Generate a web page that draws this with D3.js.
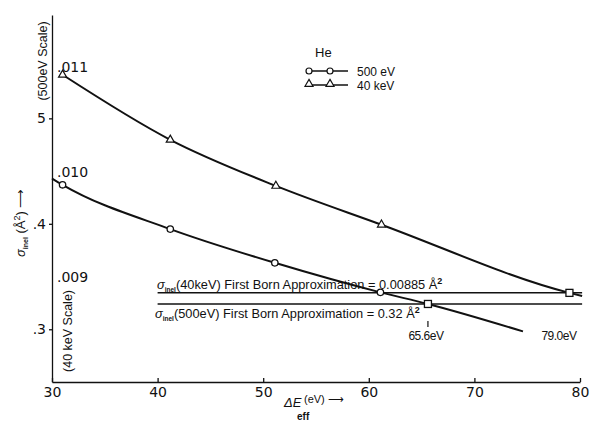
<!DOCTYPE html>
<html>
<head>
<meta charset="utf-8">
<script src="https://cdn.jsdelivr.net/npm/d3@7"></script>
<style>
  body { margin: 0; background: #fff; }
  text { font-family: "Liberation Sans", Arial, sans-serif; fill: #111; }
</style>
</head>
<body>
<svg id="chart" width="591" height="423"></svg>
<script>
// He, sigma_inel vs effective energy loss
var xTicks = [30, 40, 50, 60, 70, 80];
var y500Ticks = [0.3, 0.4, 0.5];
var y500TickLabels = [".3", ".4", "5"];
var y40Ticks = [0.009, 0.010, 0.011];
var y40TickLabels = [".009", ".010", ".011"];

// 500 eV curve (left / 500eV scale)
var energy500 = [31, 41.2, 51.1, 61.1];
var sigma500 = [0.437, 0.395, 0.363, 0.335];
var curve500E = [30, 31, 41.2, 51.1, 61.1, 65.6, 74.6];
var curve500S = [0.443, 0.437, 0.395, 0.363, 0.335, 0.324, 0.298];

// 40 keV curve (40 keV scale)
var energy40 = [31, 41.2, 51.2, 61.2];
var sigma40 = [0.01093, 0.01031, 0.00987, 0.00950];
var curve40E = [31, 41.2, 51.2, 61.2, 79.0, 80.2];
var curve40S = [0.01093, 0.01031, 0.00987, 0.00950, 0.00885, 0.00882];

// first Born levels and crossing points
var born40 = 0.00885;
var born500 = 0.324;   // drawn level, labelled 0.32
var bornRange = [40, 80.2];
var crossE = [65.6, 79.0];
var crossLabels = ["65.6eV", "79.0eV"];

var svg = d3.select("#chart");

var x = d3.scaleLinear().domain([30, 80]).range([52, 580]);
var y500 = d3.scaleLinear().domain([0.25, 0.598]).range([382, 15]);
var y40 = d3.scaleLinear().domain([0.008, 0.0115]).range([382, 15]);

// axes
var leftAxis = svg.append("g")
    .attr("transform", "translate(52,0)")
    .call(d3.axisLeft(y500).tickValues(y500Ticks).tickSize(3).tickSizeOuter(0)
      .tickPadding(3)
      .tickFormat(function(d, i) { return y500TickLabels[i]; }));
leftAxis.selectAll("text").style("font-size", "14px").style("font-family", "DejaVu Sans");

var bottomAxis = svg.append("g")
    .attr("transform", "translate(0,382)")
    .call(d3.axisBottom(x).tickValues(xTicks).tickSizeInner(-4).tickSizeOuter(0)
      .tickPadding(5));
bottomAxis.selectAll("text").style("font-size", "14px").style("font-family", "DejaVu Sans");
svg.selectAll(".domain, .tick line").attr("stroke", "#111").attr("stroke-width", 1.3);

// 40 keV scale labels inside the axis
svg.append("g").selectAll("text")
    .data(y40Ticks)
    .enter().append("text")
    .attr("x", 57)
    .attr("y", function(d) { return y40(d); })
    .attr("dy", "0.35em")
    .style("font-size", "14px")
    .style("font-family", "DejaVu Sans")
    .text(function(d, i) { return y40TickLabels[i]; });

svg.append("text")
    .attr("transform", "translate(47,61) rotate(-90)")
    .attr("text-anchor", "middle")
    .style("font-size", "12.5px")
    .text("(500eV Scale)");

svg.append("text")
    .attr("transform", "translate(72,331) rotate(-90)")
    .attr("text-anchor", "middle")
    .style("font-size", "12.5px")
    .text("(40 keV Scale)");

// y title
var yt = svg.append("text")
    .attr("transform", "translate(25,257) rotate(-90)")
    .style("font-size", "13px");
yt.append("tspan").style("font-style", "italic").text("σ");
yt.append("tspan").attr("dy", 3).style("font-size", "7px").style("font-weight", "bold").text("inel");
yt.append("tspan").attr("dy", -3).text(" (Å");
yt.append("tspan").attr("dy", -5).style("font-size", "9px").text("2");
yt.append("tspan").attr("dy", 5).text(") ⟶");

// x title
svg.append("text").attr("x", 284).attr("y", 407)
    .style("font-size", "13px").style("font-style", "italic").text("ΔE");
svg.append("text").attr("x", 297).attr("y", 420)
    .style("font-size", "10px").style("font-weight", "bold").text("eff");
svg.append("text").attr("x", 304).attr("y", 403)
    .style("font-size", "11px").text("(eV) ⟶");

// first Born lines
var bornLines = [
  { level: y40(born40) },
  { level: y500(born500) }
];
svg.append("g").selectAll("line")
    .data(bornLines)
    .enter().append("line")
    .attr("x1", x(bornRange[0]))
    .attr("x2", x(bornRange[1]))
    .attr("y1", function(d) { return d.level; })
    .attr("y2", function(d) { return d.level; })
    .attr("stroke", "#111")
    .attr("stroke-width", 1.5);

function bornText(xp, yp, beam, val) {
  var t = svg.append("text").attr("x", xp).attr("y", yp).style("font-size", "12.8px");
  t.append("tspan").style("font-style", "italic").text("σ");
  t.append("tspan").attr("dy", 3).style("font-size", "6.5px").style("font-weight", "bold").text("inel");
  t.append("tspan").attr("dy", -3).text("(" + beam + ") First Born  Approximation = " + val + " Å");
  t.append("tspan").attr("dy", -5).style("font-size", "9px").style("font-weight", "bold").text("2");
}
bornText(157, 289, "40keV", "0.00885");
bornText(155, 318, "500eV", "0.32");

// curves
var line500 = d3.line()
    .x(function(d) { return x(d[0]); })
    .y(function(d) { return y500(d[1]); })
    .curve(d3.curveMonotoneX);
var line40 = d3.line()
    .x(function(d) { return x(d[0]); })
    .y(function(d) { return y40(d[1]); })
    .curve(d3.curveMonotoneX);

svg.append("path")
    .datum(d3.zip(curve500E, curve500S))
    .attr("d", line500)
    .attr("fill", "none").attr("stroke", "#111").attr("stroke-width", 2);
svg.append("path")
    .datum(d3.zip(curve40E, curve40S))
    .attr("d", line40)
    .attr("fill", "none").attr("stroke", "#111").attr("stroke-width", 2);

// markers
svg.append("g").selectAll("circle")
    .data(d3.zip(energy500, sigma500))
    .enter().append("circle")
    .attr("cx", function(d) { return x(d[0]); })
    .attr("cy", function(d) { return y500(d[1]); })
    .attr("r", 3.2)
    .attr("fill", "#fff").attr("stroke", "#111").attr("stroke-width", 1.3);

var tri = d3.symbol().type(d3.symbolTriangle).size(28);
svg.append("g").selectAll("path")
    .data(d3.zip(energy40, sigma40))
    .enter().append("path")
    .attr("d", tri)
    .attr("transform", function(d) { return "translate(" + x(d[0]) + "," + y40(d[1]) + ")"; })
    .attr("fill", "#fff").attr("stroke", "#111").attr("stroke-width", 1.2);

// crossing squares
var crossLevels = [y500(born500), y40(born40)];
svg.append("g").selectAll("rect")
    .data(crossE)
    .enter().append("rect")
    .attr("x", function(d) { return x(d) - 3.5; })
    .attr("y", function(d, i) { return crossLevels[i] - 3.5; })
    .attr("width", 7).attr("height", 7)
    .attr("fill", "#fff").attr("stroke", "#111").attr("stroke-width", 1.3);

svg.append("line")
    .attr("x1", x(crossE[0])).attr("x2", x(crossE[0]))
    .attr("y1", 321).attr("y2", 327)
    .attr("stroke", "#111").attr("stroke-width", 1.2);

svg.append("g").selectAll("text")
    .data(crossE)
    .enter().append("text")
    .attr("x", function(d) { return x(d) - 2; })
    .attr("y", 340)
    .attr("text-anchor", function(d, i) { return i ? "start" : "middle"; })
    .attr("dx", function(d, i) { return i ? -26 : 0; })
    .style("font-size", "12px")
    .style("letter-spacing", "-0.5px")
    .text(function(d, i) { return crossLabels[i]; });

// legend
var legend = svg.append("g");
legend.append("text").attr("x", 315).attr("y", 57).style("font-size", "13px").text("He");
var legRows = [
  { label: "500 eV", y: 71, shape: "circle" },
  { label: "40 keV", y: 85, shape: "triangle" }
];
legRows.forEach(function(r) {
  legend.append("line").attr("x1", 309).attr("x2", 348).attr("y1", r.y).attr("y2", r.y)
    .attr("stroke", "#111").attr("stroke-width", 1.6);
  [309, 330].forEach(function(cx) {
    if (r.shape === "circle") {
      legend.append("circle").attr("cx", cx).attr("cy", r.y).attr("r", 3)
        .attr("fill", "#fff").attr("stroke", "#111").attr("stroke-width", 1.2);
    } else {
      legend.append("path").attr("d", tri).attr("transform", "translate(" + cx + "," + (r.y - 1) + ")")
        .attr("fill", "#fff").attr("stroke", "#111").attr("stroke-width", 1.2);
    }
  });
  legend.append("text").attr("x", 357).attr("y", r.y + 4.5).style("font-size", "12px").text(r.label);
});
</script>
</body>
</html>
